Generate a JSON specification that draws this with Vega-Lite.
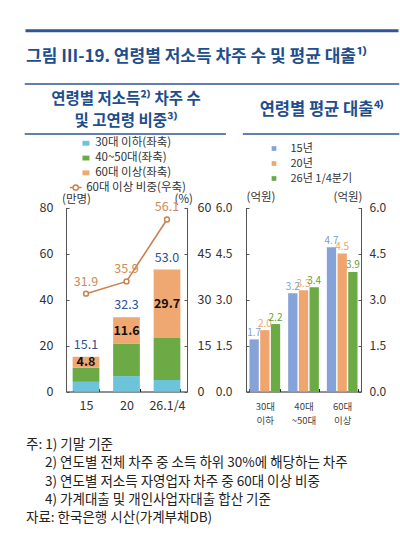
{
  "$schema": "https://vega.github.io/schema/vega-lite/v6.json",
  "usermeta": {"embedOptions": {"actions": false}},
  "width": 376,
  "height": 505,
  "autosize": {"type": "none"},
  "padding": {"left": 24, "top": 26, "right": 0, "bottom": 15},
  "background": "white",
  "datasets": {
    "counts": [
      {"year": "15", "group": "30대 이하(좌축)", "value": 4.2},
      {"year": "15", "group": "40~50대(좌축)", "value": 6.1},
      {"year": "15", "group": "60대 이상(좌축)", "value": 4.8},
      {"year": "20", "group": "30대 이하(좌축)", "value": 6.7},
      {"year": "20", "group": "40~50대(좌축)", "value": 14.0},
      {"year": "20", "group": "60대 이상(좌축)", "value": 11.6},
      {"year": "26.1/4", "group": "30대 이하(좌축)", "value": 5.0},
      {"year": "26.1/4", "group": "40~50대(좌축)", "value": 18.3},
      {"year": "26.1/4", "group": "60대 이상(좌축)", "value": 29.7}
    ],
    "totals": [
      {"year": "15", "total": 15.1, "share": 31.9},
      {"year": "20", "total": 32.3, "share": 35.9},
      {"year": "26.1/4", "total": 53.0, "share": 56.1}
    ],
    "loans": [
      {"age": "30대\n이하", "yr": "15년", "v": 1.7},
      {"age": "30대\n이하", "yr": "20년", "v": 2.0},
      {"age": "30대\n이하", "yr": "26년 1/4분기", "v": 2.2},
      {"age": "40대\n~50대", "yr": "15년", "v": 3.2},
      {"age": "40대\n~50대", "yr": "20년", "v": 3.3},
      {"age": "40대\n~50대", "yr": "26년 1/4분기", "v": 3.4},
      {"age": "60대\n이상", "yr": "15년", "v": 4.7},
      {"age": "60대\n이상", "yr": "20년", "v": 4.5},
      {"age": "60대\n이상", "yr": "26년 1/4분기", "v": 3.9}
    ]
  },
  "layer": [
    {
      "data": {"values": [{}]},
      "layer": [
        {"mark": {"type": "rule", "stroke": "#2F5597", "strokeWidth": 3},
         "encoding": {"x": {"datum": 0.004, "type": "quantitative", "scale": {"domain": [0, 1]}, "axis": null}, "x2": {"datum": 0.996},
                      "y": {"datum": 0.0093, "type": "quantitative", "scale": {"domain": [0, 1], "reverse": true}, "axis": null}}},
        {"mark": {"type": "rule", "stroke": "#2F5597", "strokeWidth": 1.5},
         "encoding": {"x": {"datum": 0.002, "type": "quantitative"}, "x2": {"datum": 0.998}, "y": {"datum": 0.1149, "type": "quantitative"}}},
        {"mark": {"type": "rule", "stroke": "#2F5597", "strokeWidth": 1.5},
         "encoding": {"x": {"datum": 0.002, "type": "quantitative"}, "x2": {"datum": 0.537}, "y": {"datum": 0.2139, "type": "quantitative"}}},
        {"mark": {"type": "rule", "stroke": "#2F5597", "strokeWidth": 1.5},
         "encoding": {"x": {"datum": 0.582, "type": "quantitative"}, "x2": {"datum": 0.998}, "y": {"datum": 0.2139, "type": "quantitative"}}},
        {"mark": {"type": "text", "text": "그림 Ⅲ-19. 연령별 저소득 차주 수 및 평균 대출¹⁾", "align": "left", "baseline": "middle", "fontSize": 17, "fontWeight": "bold", "color": "#1F4E8C"},
         "encoding": {"x": {"datum": 0.0053, "type": "quantitative"}, "y": {"datum": 0.0608, "type": "quantitative"}}},
        {"mark": {"type": "text", "text": "연령별 저소득²⁾ 차주 수", "align": "center", "baseline": "middle", "fontSize": 15.5, "fontWeight": "bold", "color": "#1F4E8C"},
         "encoding": {"x": {"datum": 0.2713, "type": "quantitative"}, "y": {"datum": 0.1455, "type": "quantitative"}}},
        {"mark": {"type": "text", "text": "및 고연령 비중³⁾", "align": "center", "baseline": "middle", "fontSize": 15.5, "fontWeight": "bold", "color": "#1F4E8C"},
         "encoding": {"x": {"datum": 0.2713, "type": "quantitative"}, "y": {"datum": 0.1881, "type": "quantitative"}}},
        {"mark": {"type": "text", "text": "연령별 평균 대출⁴⁾", "align": "center", "baseline": "middle", "fontSize": 16.5, "fontWeight": "bold", "color": "#1F4E8C"},
         "encoding": {"x": {"datum": 0.7926, "type": "quantitative"}, "y": {"datum": 0.1673, "type": "quantitative"}}},
        {"mark": {"type": "text", "text": "주: 1) 기말 기준", "align": "left", "baseline": "middle", "fontSize": 13.5, "color": "#222"},
         "encoding": {"x": {"datum": 0.0053, "type": "quantitative"}, "y": {"datum": 0.8297, "type": "quantitative"}}},
        {"mark": {"type": "text", "text": "2) 연도별 전체 차주 중 소득 하위 30%에 해당하는 차주", "align": "left", "baseline": "middle", "fontSize": 13.5, "color": "#222"},
         "encoding": {"x": {"datum": 0.0559, "type": "quantitative"}, "y": {"datum": 0.8653, "type": "quantitative"}}},
        {"mark": {"type": "text", "text": "3) 연도별 저소득 자영업자 차주 중 60대 이상 비중", "align": "left", "baseline": "middle", "fontSize": 13.5, "color": "#222"},
         "encoding": {"x": {"datum": 0.0559, "type": "quantitative"}, "y": {"datum": 0.9024, "type": "quantitative"}}},
        {"mark": {"type": "text", "text": "4) 가계대출 및 개인사업자대출 합산 기준", "align": "left", "baseline": "middle", "fontSize": 13.5, "color": "#222"},
         "encoding": {"x": {"datum": 0.0559, "type": "quantitative"}, "y": {"datum": 0.9386, "type": "quantitative"}}},
        {"mark": {"type": "text", "text": "자료: 한국은행 시산(가계부채DB)", "align": "left", "baseline": "middle", "fontSize": 13.5, "color": "#222"},
         "encoding": {"x": {"datum": 0.0053, "type": "quantitative"}, "y": {"datum": 0.9743, "type": "quantitative"}}}
      ]
    },
    {
      "encoding": {
        "x": {"field": "year", "type": "nominal", "sort": null,
              "scale": {"type": "band", "range": [42, 163], "paddingInner": 0.34, "paddingOuter": 0.164},
              "axis": {"orient": "bottom", "offset": -139.5, "title": null, "labelAngle": 0, "labelFontSize": 12.5, "labelColor": "#333", "labelPadding": 11, "tickSize": -3, "tickBand": "extent", "domainColor": "#222", "tickColor": "#222"}}
      },
      "layer": [
        {
          "layer": [
            {"data": {"name": "counts"},
             "mark": {"type": "bar"},
             "encoding": {
               "y": {"field": "value", "type": "quantitative", "stack": "zero", "scale": {"domain": [0, 80], "range": [365.5, 181.5]},
                     "axis": {"orient": "left", "offset": -42, "values": [0, 20, 40, 60, 80], "title": "(만명)", "titleAngle": 0, "titleX": 10, "titleY": 173.5, "titleAlign": "center", "titleBaseline": "middle", "titleFontSize": 11.5, "titleFontWeight": "normal", "titleColor": "#333", "labelFontSize": 12.5, "labelColor": "#333", "labelPadding": 16, "tickSize": -3, "domainColor": "#555", "tickColor": "#555"}},
               "color": {"field": "group", "type": "nominal",
                         "scale": {"domain": ["30대 이하(좌축)", "40~50대(좌축)", "60대 이상(좌축)"], "range": ["#6DC4DA", "#6BAA45", "#F0A872"]},
                         "legend": {"title": null, "orient": "none", "direction": "vertical", "legendX": 56.2, "legendY": 111.5, "symbolType": "M-1,-0.7H1V0.7H-1Z", "symbolSize": 49, "symbolStrokeWidth": 0, "labelFontSize": 11.5, "labelColor": "#333", "labelOffset": 3.5, "rowPadding": 1.8, "padding": 0}},
               "order": {"field": "group", "sort": "ascending"}
             }},
            {"data": {"name": "counts"},
             "mark": {"type": "text", "fontSize": 12.5, "fontWeight": "bold", "color": "#111", "baseline": "middle"},
             "encoding": {
               "y": {"field": "value", "type": "quantitative", "stack": "zero", "bandPosition": 0.5},
               "detail": {"field": "group"},
               "order": {"field": "group", "sort": "ascending"},
               "text": {"field": "value", "format": ".1f"},
               "opacity": {"condition": {"test": "datum.group === '60대 이상(좌축)'", "value": 1}, "value": 0}
             }},
            {"data": {"name": "totals"},
             "mark": {"type": "text", "fontSize": 12.5, "color": "#2D5096", "baseline": "middle", "dy": -12},
             "encoding": {
               "y": {"field": "total", "type": "quantitative"},
               "text": {"field": "total", "format": ".1f"}
             }}
          ]
        },
        {
          "data": {"name": "totals"},
          "encoding": {
            "y": {"field": "share", "type": "quantitative", "scale": {"domain": [0, 60], "range": [365.5, 181.5]},
                  "axis": {"orient": "right", "offset": -213, "values": [0, 15, 30, 45, 60], "title": "(%)", "titleAngle": 0, "titleX": -3.7, "titleY": 173, "titleAlign": "center", "titleBaseline": "middle", "titleFontSize": 11.5, "titleFontWeight": "normal", "titleColor": "#333", "labelFontSize": 12.5, "labelColor": "#333", "labelPadding": 13, "tickSize": -3, "domainColor": "#555", "tickColor": "#555"}}
          },
          "layer": [
            {"mark": {"type": "line", "strokeWidth": 1.6},
             "encoding": {"stroke": {"datum": "60대 이상 비중(우축)", "type": "nominal", "scale": {"range": ["#C8824F"]},
                                     "legend": {"title": null, "orient": "none", "direction": "vertical", "legendX": 44.7, "legendY": 154.5, "symbolType": "M-1,0H-0.45M0.45,0H1M0.45,0A0.45,0.45,0,1,1,-0.45,0A0.45,0.45,0,1,1,0.45,0", "symbolSize": 135, "symbolStrokeWidth": 1.5, "symbolFillColor": "white", "labelFontSize": 11.5, "labelColor": "#333", "labelOffset": 3.5, "padding": 0}}}},
            {"mark": {"type": "point", "shape": "circle", "filled": true, "fill": "white", "stroke": "#C8824F", "strokeWidth": 1.5, "size": 24, "opacity": 1}},
            {"mark": {"type": "text", "fontSize": 12.5, "color": "#D08A56", "baseline": "middle", "dy": -12},
             "encoding": {"text": {"field": "share", "format": ".1f"}}}
          ]
        }
      ],
      "resolve": {"scale": {"y": "independent"}, "axis": {"y": "independent"}}
    },
    {
      "data": {"name": "loans"},
      "encoding": {
        "x": {"field": "age", "type": "nominal", "sort": null,
              "scale": {"type": "band", "range": [222, 337], "paddingInner": 0.207, "paddingOuter": 0.09},
              "axis": {"orient": "bottom", "offset": -139.5, "title": null, "labelAngle": 0, "labelExpr": "split(datum.label, '\\n')", "labelFontSize": 9.5, "labelLineHeight": 14.4, "labelColor": "#444", "labelPadding": 13, "tickSize": -3, "tickBand": "extent", "domainColor": "#222", "tickColor": "#222"}},
        "xOffset": {"field": "yr", "type": "nominal", "sort": null, "scale": {"paddingInner": 0.13}}
      },
      "layer": [
        {"mark": {"type": "bar"},
         "encoding": {
           "y": {"field": "v", "type": "quantitative", "scale": {"domain": [0, 6], "range": [365.5, 181.5]},
                 "axis": {"orient": "left", "offset": -222, "values": [0, 1.5, 3, 4.5, 6], "format": ".1f", "title": "(억원)", "titleAngle": 0, "titleX": 14.5, "titleY": 171.3, "titleAlign": "center", "titleBaseline": "middle", "titleFontSize": 11.5, "titleFontWeight": "normal", "titleColor": "#333", "labelFontSize": 12, "labelColor": "#333", "labelPadding": 17, "tickSize": -3, "domainColor": "#555", "tickColor": "#555"}},
           "color": {"field": "yr", "type": "nominal", "sort": null,
                     "scale": {"domain": ["15년", "20년", "26년 1/4분기"], "range": ["#85A3D8", "#F0A46E", "#6BAA45"]},
                     "legend": {"title": null, "orient": "none", "direction": "vertical", "legendX": 244.5, "legendY": 117, "symbolType": "square", "symbolSize": 22, "symbolStrokeWidth": 0, "labelFontSize": 11, "labelColor": "#333", "labelOffset": 11, "rowPadding": 3, "padding": 0}}
         }},
        {"mark": {"type": "text", "fontSize": 10, "baseline": "middle", "dy": -6.5},
         "encoding": {
           "y": {"field": "v", "type": "quantitative", "scale": {"domain": [0, 6], "range": [365.5, 181.5]},
                 "axis": {"orient": "right", "offset": -39, "values": [0, 1.5, 3, 4.5, 6], "format": ".1f", "title": "(억원)", "titleAngle": 0, "titleX": -13.5, "titleY": 171.3, "titleAlign": "center", "titleBaseline": "middle", "titleFontSize": 11.5, "titleFontWeight": "normal", "titleColor": "#333", "labelFontSize": 12, "labelColor": "#333", "labelPadding": 11, "tickSize": -3, "domainColor": "#555", "tickColor": "#555"}},
           "text": {"field": "v", "format": ".1f"},
           "fill": {"field": "yr", "type": "nominal", "sort": null,
                    "scale": {"domain": ["15년", "20년", "26년 1/4분기"], "range": ["#7F9DD4", "#EFA46C", "#5E9F3A"]}, "legend": null}
         }}
      ],
      "resolve": {"scale": {"y": "independent"}, "axis": {"y": "independent"}}
    }
  ],
  "resolve": {
    "scale": {"x": "independent", "y": "independent", "color": "independent", "fill": "independent", "stroke": "independent", "xOffset": "independent"},
    "axis": {"x": "independent", "y": "independent"},
    "legend": {"color": "independent", "fill": "independent", "stroke": "independent"}
  },
  "config": {
    "font": "Noto Sans CJK KR",
    "view": {"stroke": null},
    "axis": {"grid": false, "labelFont": "Noto Sans CJK KR", "titleFont": "Noto Sans CJK KR"},
    "legend": {"labelFont": "Noto Sans CJK KR"},
    "text": {"font": "Noto Sans CJK KR"}
  }
}
